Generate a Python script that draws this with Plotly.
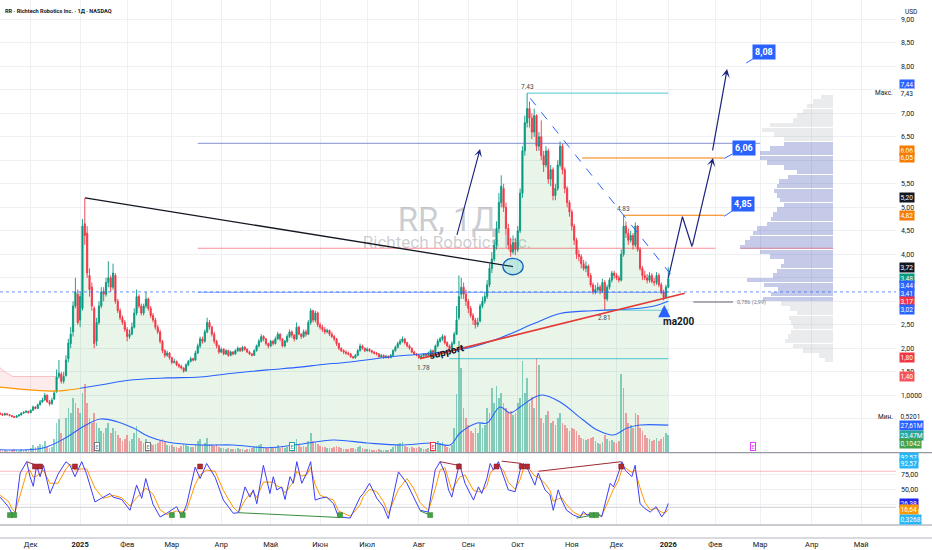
import pandas as pd
import plotly.graph_objects as go

FONT = "Roboto, Inter, 'Noto Sans', sans-serif"
UP, DN = "#089981", "#F23645"
NAVY = "#1A237E"
BLUE = "#2962FF"
ORANGE = "#F57C00"
TEAL_LINE = "rgba(0,172,193,0.55)"

# ---------------- daily OHLCV, first bar 2024-11-12 ----------------
first_day = "2024-11-12"
open_ = [0.62,0.60,0.58,0.61,0.59,0.57,0.55,0.53,0.56,0.58,
         0.62,0.64,0.66,0.63,0.68,0.75,0.72,0.80,0.86,0.90,
         1.00,0.86,0.82,0.92,1.08,1.40,1.45,1.30,1.42,1.78,
         2.10,2.35,2.90,3.15,2.60,2.85,4.65,4.45,3.55,3.30,
         2.85,2.15,2.55,2.90,3.20,3.15,3.40,3.50,3.30,3.55,
         3.00,2.80,2.65,2.55,2.40,2.25,2.30,2.45,2.75,3.10,
         2.90,2.75,2.90,3.05,2.85,2.70,2.60,2.45,2.35,2.15,
         1.95,1.85,1.90,1.80,1.70,1.72,1.65,1.62,1.58,1.52,
         1.65,1.72,1.78,1.75,1.90,2.05,2.20,2.15,2.35,2.55,
         2.45,2.30,2.15,2.05,1.92,1.98,1.88,1.95,1.85,1.92,
         1.88,1.95,2.00,1.95,2.02,1.98,1.92,1.88,1.85,1.95,
         2.05,2.15,2.25,2.20,2.10,2.05,2.15,2.10,2.20,2.30,
         2.20,2.05,2.15,2.25,2.35,2.28,2.20,2.45,2.30,2.25,
         2.35,2.30,2.55,2.80,2.60,2.75,2.50,2.45,2.40,2.35,
         2.38,2.30,2.25,2.20,2.10,2.00,1.95,1.92,1.90,1.88,
         1.82,1.80,1.85,1.95,2.05,2.00,1.95,1.98,1.95,1.92,
         1.90,1.88,1.82,1.85,1.80,1.83,1.80,1.85,1.95,2.02,
         2.10,2.15,2.20,2.12,2.05,2.00,1.92,1.88,1.85,1.80,
         1.84,1.88,1.85,1.90,1.95,1.92,2.05,2.15,2.20,2.25,
         2.12,2.05,1.98,2.10,2.30,2.65,3.15,3.30,3.15,3.00,
         2.85,2.70,2.60,2.50,2.58,2.90,3.00,3.10,3.35,3.70,
         3.90,4.20,4.55,5.10,5.40,5.00,4.55,4.20,4.05,4.25,
         4.10,4.50,5.30,6.20,6.80,7.10,6.90,6.60,6.95,6.30,
         6.50,6.10,5.90,6.20,5.60,5.80,5.25,5.40,5.90,6.30,
         5.80,5.40,5.10,4.90,4.60,4.30,4.00,3.95,3.80,3.70,
         3.75,3.55,3.35,3.20,3.25,3.30,3.22,3.40,3.05,3.30,
         3.45,3.60,3.55,3.50,3.45,4.00,4.60,4.45,4.30,4.40,
         4.20,4.60,4.10,3.70,3.55,3.50,3.45,3.55,3.42,3.40,
         3.55,3.35,3.20,3.08,3.30]
high = [0.64,0.62,0.63,0.62,0.60,0.58,0.56,0.58,0.60,0.64,
        0.66,0.68,0.67,0.70,0.78,0.77,0.82,0.90,0.95,1.05,
        1.02,0.90,0.95,1.10,1.55,1.75,1.50,1.50,1.85,2.20,
        2.45,3.00,3.50,3.25,3.20,4.75,5.20,4.60,3.70,3.40,
        2.90,2.65,3.00,3.30,3.30,3.50,3.85,3.55,3.80,3.60,
        3.05,2.85,2.70,2.60,2.45,2.40,2.55,2.85,3.25,3.15,
        2.95,2.95,3.20,3.08,2.90,2.75,2.65,2.50,2.40,2.18,
        1.98,1.95,1.92,1.82,1.78,1.74,1.68,1.65,1.60,1.68,
        1.75,1.82,1.80,1.95,2.10,2.25,2.25,2.40,2.65,2.60,
        2.48,2.35,2.18,2.08,2.02,2.00,1.98,1.97,1.95,1.94,
        1.98,2.04,2.02,2.05,2.05,2.00,1.95,1.90,1.98,2.08,
        2.20,2.30,2.28,2.22,2.12,2.18,2.18,2.25,2.35,2.32,
        2.22,2.18,2.30,2.40,2.38,2.30,2.55,2.48,2.32,2.40,
        2.40,2.60,2.85,2.82,2.80,2.78,2.55,2.50,2.45,2.42,
        2.40,2.35,2.28,2.22,2.12,2.02,1.98,1.96,1.93,1.90,
        1.84,1.88,1.98,2.10,2.08,2.02,2.02,2.00,1.97,1.94,
        1.92,1.90,1.88,1.87,1.86,1.85,1.88,1.98,2.06,2.14,
        2.20,2.25,2.22,2.14,2.08,2.02,1.95,1.90,1.87,1.87,
        1.90,1.90,1.93,1.98,1.97,2.08,2.20,2.24,2.30,2.28,
        2.15,2.08,2.15,2.35,2.90,3.55,3.50,3.40,3.25,3.05,
        2.90,2.75,2.65,2.65,2.95,3.10,3.20,3.45,3.80,4.05,
        4.30,4.70,5.30,5.68,5.50,5.10,4.65,4.35,4.40,4.35,
        4.60,5.40,6.30,6.95,7.43,7.25,7.00,7.10,6.98,6.60,
        6.85,6.20,6.30,6.25,5.90,5.85,5.50,6.00,6.40,6.35,
        5.85,5.45,5.15,4.95,4.65,4.35,4.10,4.00,3.88,3.85,
        3.78,3.60,3.40,3.35,3.40,3.35,3.48,3.45,3.35,3.50,
        3.65,3.65,3.60,3.55,4.10,4.83,4.70,4.55,4.50,4.45,
        4.68,4.62,4.15,3.75,3.65,3.58,3.62,3.60,3.50,3.62,
        3.60,3.40,3.25,3.35,3.72]
low = [0.58,0.56,0.57,0.57,0.55,0.53,0.52,0.53,0.55,0.57,
       0.61,0.62,0.61,0.62,0.67,0.70,0.71,0.78,0.84,0.88,
       0.84,0.78,0.80,0.90,1.05,1.35,1.25,1.25,1.40,1.70,
       2.00,2.25,2.85,2.50,2.45,2.80,4.20,3.50,3.10,2.80,
       2.00,2.05,2.50,2.85,3.00,3.10,3.30,3.20,3.25,2.95,
       2.75,2.60,2.50,2.35,2.15,2.20,2.28,2.42,2.70,2.85,
       2.70,2.70,2.85,2.80,2.65,2.55,2.40,2.30,2.10,1.90,
       1.80,1.82,1.76,1.66,1.68,1.62,1.58,1.55,1.48,1.50,
       1.62,1.70,1.72,1.73,1.88,2.00,2.10,2.12,2.32,2.40,
       2.25,2.10,2.00,1.88,1.90,1.85,1.86,1.82,1.83,1.85,
       1.86,1.92,1.92,1.93,1.95,1.90,1.86,1.83,1.84,1.93,
       2.02,2.12,2.15,2.06,2.00,2.02,2.06,2.08,2.18,2.15,
       2.02,2.02,2.12,2.22,2.22,2.15,2.18,2.28,2.20,2.22,
       2.25,2.28,2.50,2.55,2.55,2.45,2.40,2.35,2.30,2.32,
       2.26,2.22,2.15,2.05,1.96,1.92,1.88,1.86,1.85,1.80,
       1.78,1.78,1.83,1.93,1.97,1.92,1.93,1.92,1.89,1.87,
       1.85,1.80,1.80,1.78,1.79,1.78,1.79,1.83,1.93,2.00,
       2.07,2.12,2.08,2.02,1.97,1.90,1.86,1.83,1.78,1.79,
       1.82,1.83,1.83,1.88,1.89,1.91,2.02,2.12,2.16,2.08,
       2.02,1.95,1.96,2.08,2.28,2.60,3.05,3.05,2.90,2.75,
       2.65,2.50,2.42,2.45,2.55,2.85,2.95,3.05,3.30,3.60,
       3.85,4.10,4.45,5.00,4.90,4.40,4.10,3.95,4.00,3.98,
       4.05,4.45,5.20,6.10,6.70,6.70,6.45,6.50,6.20,6.20,
       6.00,5.75,5.85,5.50,5.45,5.15,5.15,5.35,5.85,5.70,
       5.30,5.00,4.80,4.50,4.20,3.90,3.85,3.70,3.65,3.62,
       3.50,3.30,3.15,3.15,3.20,3.15,3.18,2.81,3.00,3.25,
       3.40,3.48,3.45,3.40,3.42,3.95,4.35,4.20,4.25,4.10,
       4.15,4.05,3.65,3.45,3.45,3.38,3.40,3.38,3.33,3.35,
       3.30,3.15,3.02,3.05,3.28]
close = [0.60,0.58,0.61,0.59,0.57,0.55,0.53,0.56,0.58,0.62,
         0.64,0.66,0.63,0.68,0.75,0.72,0.80,0.86,0.90,1.00,
         0.86,0.82,0.90,1.05,1.39,1.47,1.30,1.40,1.75,2.11,
         2.30,2.90,3.20,2.55,3.10,4.60,4.40,3.60,3.25,2.90,
         2.10,2.55,2.90,3.20,3.15,3.40,3.50,3.30,3.60,3.00,
         2.80,2.65,2.55,2.40,2.25,2.30,2.45,2.75,3.10,2.90,
         2.75,2.90,3.05,2.85,2.70,2.60,2.45,2.35,2.15,1.95,
         1.85,1.90,1.80,1.70,1.72,1.65,1.62,1.58,1.52,1.65,
         1.72,1.78,1.75,1.90,2.05,2.20,2.15,2.35,2.55,2.45,
         2.30,2.15,2.05,1.92,1.98,1.88,1.95,1.85,1.92,1.88,
         1.95,2.00,1.95,2.02,1.98,1.92,1.88,1.85,1.95,2.05,
         2.15,2.25,2.20,2.10,2.05,2.15,2.10,2.20,2.30,2.20,
         2.05,2.15,2.25,2.35,2.28,2.20,2.45,2.30,2.25,2.35,
         2.30,2.55,2.80,2.60,2.75,2.50,2.45,2.40,2.35,2.38,
         2.30,2.25,2.20,2.10,2.00,1.95,1.92,1.90,1.88,1.82,
         1.80,1.85,1.95,2.05,2.00,1.95,1.98,1.95,1.92,1.90,
         1.88,1.82,1.85,1.80,1.83,1.80,1.85,1.95,2.02,2.10,
         2.15,2.20,2.12,2.05,2.00,1.92,1.88,1.85,1.80,1.84,
         1.88,1.85,1.90,1.95,1.92,2.05,2.15,2.20,2.25,2.12,
         2.05,1.98,2.10,2.30,2.60,3.10,3.30,3.15,3.00,2.85,
         2.70,2.60,2.50,2.55,2.90,3.00,3.10,3.35,3.70,3.90,
         4.20,4.55,5.10,5.45,5.00,4.55,4.20,4.05,4.25,4.10,
         4.50,5.30,6.20,6.80,7.10,6.90,6.60,6.95,6.30,6.50,
         6.10,5.90,6.20,5.60,5.80,5.25,5.40,5.90,6.30,5.80,
         5.40,5.10,4.90,4.60,4.30,4.00,3.95,3.80,3.70,3.75,
         3.55,3.35,3.20,3.25,3.30,3.22,3.40,3.05,3.30,3.45,
         3.60,3.55,3.50,3.45,4.00,4.60,4.45,4.30,4.40,4.20,
         4.60,4.10,3.70,3.55,3.50,3.45,3.55,3.42,3.40,3.55,
         3.35,3.20,3.08,3.30,3.48]
volume_m = [3,2,3,2,2,3,4,3,2,4,
            3,4,3,5,8,6,7,9,8,12,
            6,5,6,14,30,34,20,15,35,45,
            40,55,50,45,40,60,69,50,35,30,
            40,30,25,22,20,25,30,20,25,22,
            18,15,12,14,18,12,14,20,27,15,
            12,10,14,11,9,8,9,10,12,14,
            11,8,7,8,6,6,5,7,9,8,
            7,6,6,9,12,14,8,10,15,9,
            8,7,9,6,5,5,4,5,4,4,
            4,5,4,4,3,4,4,5,6,7,
            8,9,6,5,5,6,5,6,8,5,
            6,5,6,8,5,5,14,8,6,7,
            6,12,20,12,10,9,7,6,6,5,
            5,5,6,7,6,5,4,4,4,5,
            5,4,6,7,5,4,4,4,3,3,
            3,4,3,3,3,3,4,6,8,9,
            10,11,7,6,5,6,5,5,6,5,
            4,4,5,6,5,8,12,10,11,8,
            6,5,8,25,59,112,85,45,35,28,
            22,20,25,20,30,25,28,45,40,65,
            50,67,55,60,50,45,40,42,38,40,
            50,55,92,60,75,50,56,45,95,88,
            35,30,38,42,30,32,28,35,40,30,
            28,25,22,25,24,22,18,15,14,13,
            14,15,16,12,10,9,11,18,14,12,
            13,11,10,12,79,65,40,30,28,25,
            40,38,25,22,18,15,14,12,13,15,
            12,14,16,20,18]

# ---------------- indicator lines (bar index from 2024-12-02, value) --------
ma200_bars = [-14, 1, 11, 15.5, 21, 29.5, 43.6, 58, 72, 86, 100.5, 114.5, 123, 135.8, 157, 171,
              185.5, 199.5, 213.6, 225, 239, 256, 265, 271]
ma200_vals = [1.18, 1.11, 1.09, 1.11, 1.15, 1.22, 1.33, 1.37, 1.39, 1.47, 1.54, 1.60, 1.65, 1.71,
              1.84, 1.90, 2.00, 2.22, 2.52, 2.74, 2.80, 2.84, 2.90, 3.00]
band_bars = [-14, -11, -7.5, 0, 5, 11]
band_top = [1.63, 1.50, 1.40, 1.40, 1.40, 1.40]
band_low = [1.18, 1.16, 1.13, 1.11, 1.10, 1.09]
fill_from_bar = 12
vma_bars = [-14, 5.2, 15.5, 22, 29.5, 36.7, 43.6, 50.7, 58, 72, 86, 100.5, 114.5, 128.5, 143, 157, 171,
            178.3, 182.5, 189.8, 194, 199.5, 203.8, 208, 213.6, 217.4, 225, 234.8, 240.8, 247.6,
            253.5, 259, 271]
vma_vals = [3, 4.7, 15.7, 25.7, 33.7, 31, 24.7, 15.7, 10.7, 7.7, 7.7, 5, 8.5, 12.7, 9.7, 7.7, 9.7,
            7.7, 19.7, 29.7, 29.7, 45.7, 39.7, 45.7, 54.7, 57.7, 50.7, 32.7, 22.7, 17.7, 24.7, 27.7, 27.6]

k_bars = [-13, -9.5, -8, -6.7, -4.5, -1.7, -0.3, 1.1, 2.5, 4, 5.4, 8.2, 11.6, 15, 16.7, 18.8, 21.7,
          23.8, 27.3, 30.8, 33.7, 35, 38.7, 42.2, 45, 47.2, 48.9, 52, 55, 57.8, 62, 64.2, 66.3, 69.9,
          72, 74.8, 78.4, 81.9, 86.1, 88.3, 91.1, 93.2, 94.6, 96.1, 98.9, 101.7, 103.1, 104.6, 106.7,
          108.1, 110.2, 111.6, 113.1, 115.2, 117.3, 119, 120.9, 123, 125.8, 128.7, 130.8, 135.8, 140,
          141.4, 144, 147.1, 149.9, 152, 156.3, 159.9, 162.7, 165.5, 169, 171.9, 174, 176.1, 177.6,
          179, 182.2, 184.6, 188.2, 190.3, 191.7, 193.9, 195.3, 196.7, 198.8, 200.9, 203, 205.9, 208,
          209.4, 211.5, 214.3, 215.7, 218.6, 220.7, 222.1, 224.2, 225.7, 227.8, 230.7, 233.5, 234.9,
          236.4, 240.6, 242.7, 246.3, 247.7, 249.8, 251.3, 252.7, 255.5, 256.9, 259, 261.1, 263.3,
          265.8, 268.2, 269.6, 271]
k_vals = [37, 21, 10, 8, 77, 96, 71, 55, 90, 71, 90, 43, 75, 96, 90, 71, 96, 75, 29, 37, 43, 37, 33,
          15, 57, 35, 68, 25, 4, 10, 21, 4, 25, 87, 68, 93, 70, 32, 10, 11, 54, 37, 49, 26, 90, 43, 71,
          49, 54, 33, 71, 60, 96, 60, 77, 96, 32, 35, 37, 26, 4, 2, 37, 43, 60, 35, 21, 1, 79, 60, 37,
          15, 12, 82, 96, 77, 49, 37, 93, 60, 32, 54, 43, 68, 93, 82, 96, 71, 49, 46, 82, 93, 82, 57,
          77, 49, 41, 15, 49, 32, 15, 7, 3, 13, 7, 10, 4, 60, 54, 77, 96, 82, 71, 90, 26, 18, 12, 21,
          4, 12, 26.38]
d_vals = [40, 30, 18, 12, 40, 78, 82, 70, 72, 76, 82, 60, 60, 84, 92, 82, 84, 84, 52, 35, 38, 40, 36,
          22, 36, 44, 52, 42, 16, 8, 14, 12, 16, 58, 74, 82, 80, 48, 20, 12, 32, 42, 46, 36, 62, 62, 62,
          56, 52, 44, 54, 62, 80, 72, 74, 86, 58, 40, 36, 32, 14, 5, 24, 38, 50, 46, 30, 10, 50, 68, 52,
          28, 14, 50, 82, 86, 66, 48, 70, 74, 48, 46, 46, 56, 76, 84, 90, 82, 62, 50, 66, 84, 86, 72,
          70, 60, 48, 30, 34, 36, 24, 12, 6, 9, 8, 9, 6, 36, 50, 64, 84, 86, 78, 82, 52, 28, 16, 18,
          12, 10, 16.64]
bear_box_bars = [1.8, 4, 18.8, 72, 182, 198, 208.7, 211, 251]
bull_box_bars = [-8.8, -7, 60, 64.6, 131.5, 169.8, 238.5, 240.4]
bear_div = [(-1.7, 96, 2.5, 90), (174, 96, 181.7, 90), (200.2, 97, 208.7, 93), (215.8, 80, 251, 96)]
bull_div = [(88.3, 11, 131.5, 3), (165.5, 14, 169.8, 7), (232, 2, 239, 7)]

# volume profile (price bin centres, relative widths)
vp_prices = [1.75 + 0.1 * k for k in range(57)]
vp_width = [8, 14, 30, 40, 48, 45, 42, 40, 42, 44, 36, 43, 52, 70, 62, 55, 69, 86, 60, 56, 52, 49, 63,
            73, 93, 88, 83, 80, 76, 66, 62, 60, 56, 49, 53, 56, 59, 56, 54, 45, 36, 49, 66, 73, 73,
            63, 49, 49, 59, 71, 63, 40, 36, 30, 26, 20, 12]
va_low, va_high = 3.0, 6.4

# drawings (bar index, price)
trend_bars, trend_prices = [23.1, 205], [5.20, 3.74]
support_bars, support_prices = [165.5, 278], [1.78, 3.17]
arrow1_bars, arrow1_prices = [181, 191], [4.38, 6.24]
dash_bars, dash_prices = [212.3, 274], [7.32, 3.45]
circle_bar, circle_price = 205, 3.74
zig_bars, zig_prices = [271, 277, 281.1, 290], [3.50, 4.80, 4.16, 6.05]
arrow2_bars, arrow2_prices = [289.7, 296], [6.18, 7.94]
lvl_price = [7.43, 6.36, 6.05, 4.83, 4.13, 4.13, 3.19, 2.81, 1.78, 2.985]
lvl_start = [211, 71, 234.4, 252, 71, 301.6, 71, 244, 178, 281.6]
lvl_end = [271, 310, 294.8, 294.8, 291, 341.1, 271, 271, 271, 298.5]
lvl_color = [TEAL_LINE, "rgba(92,107,192,0.6)", ORANGE, ORANGE, "rgba(242,54,69,0.55)",
             "rgba(242,54,69,0.45)", "rgba(41,98,255,0.45)", TEAL_LINE, TEAL_LINE, "#5d606b"]
dotted_price = 3.20
fib_text, fib_bar, fib_price = "0,786 (2,99)", 299.5, 2.985
targets = ["8,08", "6,06", "4,85"]
target_tip_bars, target_tip_prices = [304.1, 294.8, 294.8], [8.07, 6.04, 4.81]
target_lab_bars, target_lab_prices = [311.8, 303.1, 302.9], [8.30, 6.27, 5.08]
note_text = ["7.43", "4.83", "2.81", "1.78"]
note_bars, note_prices = [211, 251.8, 243.8, 166.8], [7.56, 4.96, 2.64, 1.58]
earn_bars = [28, 50, 111, 171, 307]
earn_colors = ["#787b86", "#787b86", "#26a69a", "#f23645", "#e040fb"]
watermark = ["RR, 1Д", "Richtech Robotics Inc."]

# ---------------- calendar -> bar index ----------------
holidays = ["2024-11-28", "2024-12-25", "2025-01-01", "2025-01-09", "2025-01-20", "2025-02-17",
            "2025-04-18", "2025-05-26", "2025-06-19", "2025-07-04", "2025-09-01", "2025-11-27",
            "2025-12-25", "2026-01-01", "2026-01-19", "2026-02-16", "2026-04-03", "2026-05-25"]
cal = pd.bdate_range("2024-11-01", "2026-06-30")
cal = cal[~cal.isin(pd.to_datetime(holidays))]
origin = cal.get_loc(pd.Timestamp("2024-12-02"))
start = cal.get_loc(pd.Timestamp(first_day))
bars = [i - origin for i in range(start, start + len(close))]

ser = pd.Series(cal)
firsts = ser.groupby(ser.dt.to_period("M")).first()
mnames = {2: "Фев", 3: "Мар", 4: "Апр", 5: "Май", 6: "Июн", 7: "Июл", 8: "Авг", 9: "Сен",
          10: "Окт", 11: "Ноя", 12: "Дек"}
tick_bars, tick_text = [], []
for per, d in firsts.items():
    if pd.Timestamp("2024-12-01") <= d <= pd.Timestamp("2026-05-31"):
        tick_bars.append(cal.get_loc(d) - origin)
        tick_text.append(f"<b>{d.year}</b>" if d.month == 1 else mnames[d.month])

# ---------------- geometry ----------------
PANE_W, PLOT_H = 896, 538
ppb = (668.3 - 30.7) / 271
x_range = [-30.7 / ppb, (PANE_W - 30.7) / ppb]
y_top, px_per_usd = 19.3, 47.0
price_range = [9 - (452.7 - y_top) / px_per_usd, 9 + y_top / px_per_usd]
main_dom = [(PLOT_H - 452.7) / PLOT_H, 1]
stoch_dom = [(PLOT_H - 525) / PLOT_H, (PLOT_H - 453) / PLOT_H]
stoch_range = [(519.3 - 525) / 0.6, (519.3 - 453) / 0.6]

def px_to_bar(px):
    return x_range[0] + px / ppb

def py_to_price(py):
    return 9 - (py - y_top) / px_per_usd

fig = go.Figure()

# watermark (drawn under everything)
fig.add_trace(go.Scatter(x=[px_to_bar(447), px_to_bar(447)], y=[py_to_price(222.5), py_to_price(244)],
                         mode="text", text=watermark, textposition="middle center",
                         textfont=dict(size=[33, 17], color="rgba(120,123,134,0.38)", family=FONT),
                         hoverinfo="skip", showlegend=False))

# green area under price
fb = [b for b in bars if b >= fill_from_bar]
fc = [c for b, c in zip(bars, close) if b >= fill_from_bar]
fig.add_trace(go.Scatter(x=fb, y=[price_range[0]] * len(fb), mode="lines", line=dict(width=0),
                         hoverinfo="skip", showlegend=False))
fig.add_trace(go.Scatter(x=fb, y=fc, mode="lines", line=dict(width=0), fill="tonexty",
                         fillcolor="rgba(76,175,80,0.13)", hoverinfo="skip", showlegend=False))
# pink band on the left
fig.add_trace(go.Scatter(x=band_bars, y=band_low, mode="lines", line=dict(width=0), showlegend=False))
fig.add_trace(go.Scatter(x=band_bars, y=band_top, mode="lines", line=dict(width=0.8, color="rgba(242,54,69,0.35)"),
                         fill="tonexty", fillcolor="rgba(242,54,69,0.10)", showlegend=False))

# volume profile
vp_col = ["rgba(63,81,181,0.30)" if va_low <= p <= va_high else "rgba(160,163,170,0.22)" for p in vp_prices]
fig.add_trace(go.Bar(x=vp_width, y=vp_prices, orientation="h", width=0.095, marker=dict(color=vp_col, line=dict(width=0)),
                     xaxis="x3", yaxis="y", showlegend=False))

# volume
vcol = ["rgba(8,153,129,0.45)" if c >= o else "rgba(242,54,69,0.45)" for o, c in zip(open_, close)]
fig.add_trace(go.Bar(x=bars, y=volume_m, marker=dict(color=vcol, line=dict(width=0)), width=0.72,
                     xaxis="x", yaxis="y3", showlegend=False))
fig.add_trace(go.Scatter(x=vma_bars, y=vma_vals, mode="lines", line=dict(color=BLUE, width=1.1, shape="spline"),
                         xaxis="x", yaxis="y3", showlegend=False))

# MA200 (orange while below, blue after)
cut = ma200_bars.index(21)
fig.add_trace(go.Scatter(x=ma200_bars[:cut + 1], y=ma200_vals[:cut + 1], mode="lines",
                         line=dict(color="#FF9800", width=1.1, shape="spline"), xaxis="x", yaxis="y4", showlegend=False))
fig.add_trace(go.Scatter(x=ma200_bars[cut:], y=ma200_vals[cut:], mode="lines",
                         line=dict(color=BLUE, width=1.1, shape="spline"), xaxis="x", yaxis="y4", showlegend=False))

# candles
fig.add_trace(go.Candlestick(x=bars, open=open_, high=high, low=low, close=close,
                             increasing=dict(line=dict(color=UP, width=0.9), fillcolor=UP),
                             decreasing=dict(line=dict(color=DN, width=0.9), fillcolor=DN),
                             whiskerwidth=0, xaxis="x", yaxis="y4", showlegend=False))

# zigzag projection
fig.add_trace(go.Scatter(x=zig_bars[:3], y=zig_prices[:3], mode="lines", line=dict(color=NAVY, width=1.2),
                         xaxis="x", yaxis="y4", showlegend=False))

# stochastic
fig.add_trace(go.Scatter(x=k_bars, y=d_vals, mode="lines", line=dict(color="#FF9800", width=1),
                         xaxis="x2", yaxis="y2", showlegend=False))
fig.add_trace(go.Scatter(x=k_bars, y=k_vals, mode="lines", line=dict(color="#3D3DF5", width=1),
                         xaxis="x2", yaxis="y2", showlegend=False))
for (a, b, c, d) in bear_div:
    fig.add_trace(go.Scatter(x=[a, c], y=[b, d], mode="lines", line=dict(color="#9c2a35", width=1),
                             xaxis="x2", yaxis="y2", showlegend=False))
for (a, b, c, d) in bull_div:
    fig.add_trace(go.Scatter(x=[a, c], y=[b, d], mode="lines", line=dict(color="#388e3c", width=1),
                             xaxis="x2", yaxis="y2", showlegend=False))
fig.add_trace(go.Scatter(x=bear_box_bars, y=[88] * len(bear_box_bars), mode="markers",
                         marker=dict(symbol="square", size=5, color="#b22833", line=dict(color="#7f1d25", width=0.5)),
                         xaxis="x2", yaxis="y2", showlegend=False))
fig.add_trace(go.Scatter(x=bull_box_bars, y=[7] * len(bull_box_bars), mode="markers",
                         marker=dict(symbol="square", size=5, color="#43a047", line=dict(color="#2e7d32", width=0.5)),
                         xaxis="x2", yaxis="y2", showlegend=False))

# ---------------- shapes ----------------
shapes = []
def seg(x0, y0, x1, y1, color, width=1, dash=None, xref="x", yref="y"):
    shapes.append(dict(type="line", x0=x0, y0=y0, x1=x1, y1=y1, xref=xref, yref=yref,
                       line=dict(color=color, width=width, dash=dash)))

seg(x_range[0], dotted_price, x_range[1], dotted_price, "rgba(41,98,255,0.7)", 1, "dot")
for p, a, b, c in zip(lvl_price, lvl_start, lvl_end, lvl_color):
    seg(a, p, b, p, c, 1.1)
seg(trend_bars[0], trend_prices[0], trend_bars[1], trend_prices[1], "#131722", 1.3)
seg(support_bars[0], support_prices[0], support_bars[1], support_prices[1], "#E53935", 1.6)
seg(dash_bars[0], dash_prices[0], dash_bars[1], dash_prices[1], BLUE, 1, "dash")
shapes.append(dict(type="circle", xref="x", yref="y", x0=circle_bar - 4.3, x1=circle_bar + 4.3,
                   y0=circle_price - 0.175, y1=circle_price + 0.175,
                   line=dict(color="#1565C0", width=1.3), fillcolor="rgba(0,172,193,0.18)"))
# stoch levels
seg(0, 80, 1, 80, "rgba(242,54,69,0.35)", 1, None, "paper", "y2")
seg(0, 20, 1, 20, "rgba(120,123,134,0.35)", 1, None, "paper", "y2")
# pane separators
for ypx in (452.7, 525):
    yy = (PLOT_H - ypx) / PLOT_H
    seg(0, yy, 1.045, yy, "#9598a1", 1.2, None, "paper", "paper")
seg(0, 0, 1.045, 0, "#b2b5be", 1, None, "paper", "paper")

# ---------------- annotations ----------------
ann = []
def txt(x, y, s, size=7, color="#131722", xref="x", yref="y", **kw):
    ann.append(dict(x=x, y=y, xref=xref, yref=yref, text=s, showarrow=False,
                    font=dict(size=size, color=color, family=FONT), **kw))

# header
txt(3 / PANE_W, 1 - 6 / PLOT_H, "<b>RR · Richtech Robotics Inc. · 1Д · NASDAQ</b>", 5.6, "#131722", "paper", "paper",
    xanchor="left")
txt(903 / PANE_W, 1 - 6 / PLOT_H, "USD", 6.5, "#131722", "paper", "paper", xanchor="left")

# drawing texts
for s, b, p in zip(note_text, note_bars, note_prices):
    txt(b, p, s, 6.5, "#434651")
txt(fib_bar, fib_price, fib_text, 5.5, "#787b86", xanchor="left")
txt(177, 1.93, "<b>support</b>", 10, "#131722", textangle=-14)
txt(275.5, 2.58, "<b>ma200</b>", 10, "#131722")
ann.append(dict(x=269.3, y=2.92, ax=269.3, ay=2.64, xref="x", yref="y", axref="x", ayref="y", text="",
                showarrow=True, arrowhead=2, arrowsize=0.7, arrowwidth=3.5, arrowcolor=BLUE))
# arrows
ann.append(dict(x=arrow1_bars[1], y=arrow1_prices[1], ax=arrow1_bars[0], ay=arrow1_prices[0],
                xref="x", yref="y", axref="x", ayref="y", text="", showarrow=True, arrowhead=3,
                arrowsize=1.2, arrowwidth=1.1, arrowcolor=NAVY))
ann.append(dict(x=zig_bars[3], y=zig_prices[3], ax=zig_bars[2], ay=zig_prices[2],
                xref="x", yref="y", axref="x", ayref="y", text="", showarrow=True, arrowhead=3,
                arrowsize=1.2, arrowwidth=1.2, arrowcolor=NAVY))
ann.append(dict(x=arrow2_bars[1], y=arrow2_prices[1], ax=arrow2_bars[0], ay=arrow2_prices[0],
                xref="x", yref="y", axref="x", ayref="y", text="", showarrow=True, arrowhead=3,
                arrowsize=1.2, arrowwidth=1.2, arrowcolor=NAVY))
# target labels
for s, tb, tp, lb, lp in zip(targets, target_tip_bars, target_tip_prices, target_lab_bars, target_lab_prices):
    ann.append(dict(x=tb, y=tp, ax=lb, ay=lp, xref="x", yref="y", axref="x", ayref="y",
                    text=f"<b>{s}</b>", showarrow=True, arrowhead=0, arrowwidth=1, arrowcolor=BLUE,
                    bgcolor=BLUE, borderpad=2, font=dict(size=9, color="white", family=FONT)))
# earnings markers
for b, c in zip(earn_bars, earn_colors):
    ann.append(dict(x=b, y=5.8, xref="x", yref="y3", text="E", showarrow=False, bgcolor="white",
                    bordercolor=c, borderwidth=1, borderpad=0.5, font=dict(size=5.5, color=c, family=FONT)))

# right-scale tags
TAG_X = 899 / PANE_W
def tag(s, v, bg, fg="white", yref="y", shift=0):
    ann.append(dict(x=TAG_X, y=v, xref="paper", yref=yref, yshift=shift, xanchor="left", text=s,
                    showarrow=False, bgcolor=bg, borderpad=0.6, font=dict(size=6.6, color=fg, family=FONT)))

tag("7,44", 7.44, BLUE, shift=8)
tag("7,43", 7.43, "white", "#131722")
txt(895 / PANE_W, 7.43, "Макс.", 6.5, "#131722", "paper", "y", xanchor="right")
tag("6,06", 6.06, ORANGE, shift=7)
tag("6,05", 6.05, ORANGE)
tag("5,20", 5.20, "#131722")
tag("4,82", 4.82, ORANGE)
tag("3,72", 3.72, "#131722")
tag("3,48", 3.48, UP)
tag("3,44", 3.44, BLUE, shift=-5)
tag("3,41", 3.41, BLUE, shift=-11)
tag("3,17", 3.17, DN, shift=-8)
tag("3,02", 3.02, BLUE, shift=-9)
tag("1,80", 1.80, DN)
tag("1,40", 1.40, "#F7525F")
tag("0,5201", 0.5201, "white", "#131722", shift=1)
txt(895 / PANE_W, 0.5201, "Мин.", 6.5, "#131722", "paper", "y", xanchor="right", yshift=1)
tag("27,61M", 27.61, BLUE, yref="y3")
tag("23,47M", 23.47, "#26A69A", yref="y3", shift=-6)
tag("0,1042", 9.7, "#43A047", yref="y3")
tag("92,57", 92.57, "#29B6F6", yref="y2", shift=6)
tag("92,57", 92.57, "#29B6F6", yref="y2")
tag("26,38", 26.38, "#2424F0", yref="y2")
tag("16,64", 16.64, "#FF9800", yref="y2")
tag("0,3268", 0.3268, "#29B6F6", yref="y2")

price_ticks = [0.5 * k for k in range(1, 19)]
hidden = {0.5, 3.0, 3.5, 6.0, 7.5}
price_text = ["" if v in hidden else ("1,0000" if v == 1.0 else f"{v:.2f}".replace(".", ",")) for v in price_ticks]

GRID = "#eef0f4"
fig.update_layout(
    width=932, height=550, margin=dict(l=0, r=932 - PANE_W, t=0, b=550 - PLOT_H),
    paper_bgcolor="white", plot_bgcolor="white", showlegend=False, bargap=0,
    font=dict(family=FONT, size=7, color="#131722"),
    xaxis=dict(domain=[0, 1], anchor="y", range=x_range, tickvals=tick_bars, showticklabels=False,
               showgrid=True, gridcolor=GRID, zeroline=False, rangeslider=dict(visible=False), fixedrange=True),
    xaxis2=dict(domain=[0, 1], anchor="free", position=0, range=x_range, tickvals=tick_bars, ticktext=tick_text,
                showgrid=True, gridcolor=GRID, zeroline=False, ticks="", tickfont=dict(size=7.5, color="#131722"),
                rangeslider=dict(visible=False)),
    xaxis3=dict(overlaying="x", anchor="y", range=[833, 833 - PANE_W], visible=False),
    yaxis=dict(domain=main_dom, anchor="x", range=price_range, side="right", tickvals=price_ticks,
               ticktext=price_text, showgrid=True, gridcolor=GRID, zeroline=False, ticks="",
               ticklabelstandoff=4, tickfont=dict(size=7, color="#131722")),
    yaxis3=dict(overlaying="y", range=[0, 452.7], visible=False),
    yaxis4=dict(overlaying="y", range=price_range, visible=False),
    yaxis2=dict(domain=stoch_dom, anchor="x2", range=stoch_range, side="right", tickvals=[25, 50, 75],
                ticktext=["", "50,00", "75,00"], showgrid=True, gridcolor=GRID, zeroline=False, ticks="",
                ticklabelstandoff=4, tickfont=dict(size=7, color="#131722")),
    shapes=shapes, annotations=ann,
)

fig.write_html("out.html", config=dict(displayModeBar=False),
               post_script="document.body.style.margin='0';document.body.style.overflow='hidden';")
